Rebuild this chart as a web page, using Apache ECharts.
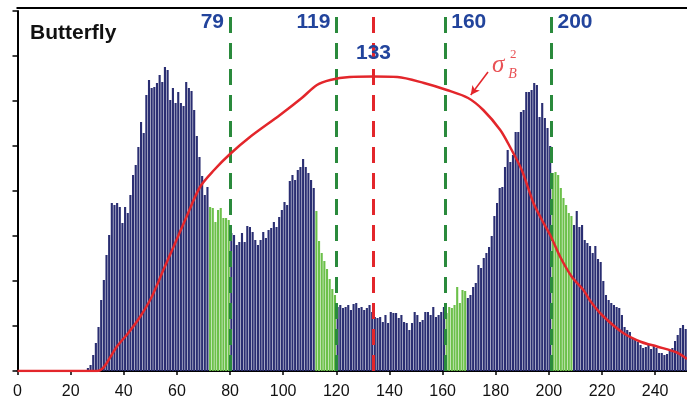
<!DOCTYPE html>
<html><head><meta charset="utf-8">
<script src="https://cdn.jsdelivr.net/npm/echarts@6/dist/echarts.min.js"></script>
<style>html,body{margin:0;padding:0;background:#fff}#c{width:687px;height:403px}</style>
</head><body><div id="c"></div>
<script>
// histogram counts for gray levels 0..251 (arbitrary units)
const counts = [
 0,0,0,0,0,0,0,0,0,0, 0,0,0,0,0,0,0,0,0,0, 0,0,0,0,0,1,3,6,16,28,
 44,71,91,116,136,168,166,168,164,148, 164,158,176,196,206,224,249,238,276,291,
 283,284,288,296,289,304,301,271,283,268, 279,268,265,289,283,280,261,235,214,195,
 176,184,164,163,149,161,163,153,153,151, 138,136,126,129,138,129,145,144,139,131,
 126,131,139,133,141,143,149,144,154,161, 169,166,190,196,191,201,204,212,204,198,
 191,183,160,130,118,110,102,92,82,76, 64,66,63,64,66,61,67,68,63,64,
 61,63,66,59,54,53,54,49,56,48, 59,58,58,53,56,49,48,41,48,59,
 56,49,51,59,59,56,64,54,56,59, 64,58,64,63,66,84,68,81,80,73,
 76,84,88,106,103,113,118,124,135,155, 168,183,184,204,221,209,216,239,239,259,
 261,279,279,281,288,286,254,268,253,243, 225,198,199,196,183,173,166,158,155,146,
 160,144,146,131,128,125,118,125,112,109, 90,76,71,68,66,64,63,56,44,41,
 39,33,31,29,26,23,24,26,22,25, 23,18,18,16,17,21,23,30,36,43,
 46,42
];
const greenRanges = [[72,79],[112,119],[161,168],[201,208]];
const thresholds = [79, 119, 133, 160, 200];
const optimalThreshold = 133;
// between-class variance curve sigma_B^2 (same visual scale)
const sigmaX = [0,30,31.8,33.6,37.3,41.7,46.1,50.5,54.9,58.7,63.1,68.7,74,80,87.5,98.8,107,112.7,117.7,125,134,143,153,161.6,169.6,175.3,181.7,185.4,189.8,194.2,197.4,200.5,204.3,208.7,213,215.6,220,228,234.8,240.7,248.2,252];
const sigmaY = [0,0,2,8,24,38,54,74,101,124,151,184,201,217,234,256,273,286,291,294,294.5,294,288,281,273,261,241,224,201,168,151,136,114,94,81,70,56,38,29,24.5,18.5,12];
const xTicks = {min: 0, max: 252, interval: 20};

const navy = '#2a2e72', green = '#6cc04a', dgreen = '#2a8a3c', red = '#e3262b', blue = '#22449c';
const isGreen = k => greenRanges.some(r => k >= r[0] && k <= r[1]);

const barData = counts.map((v, k) => [k, v]);
const sigmaData = sigmaX.map((x, i) => [x, sigmaY[i]]);

const thrLines = thresholds.map(t => {
  const isOpt = t === optimalThreshold;
  return [
    {coord: [t + 1, 0], symbol: 'none', lineStyle: {color: isOpt ? red : dgreen, width: 3, type: [16, 10]}},
    {coord: [t + 1, 356], symbol: 'none'}
  ];
});
const arrowLine = [
  {coord: [177.1, 299], symbol: 'none', lineStyle: {color: red, width: 1.5, type: 'solid'}},
  {coord: [170.6, 276], symbol: 'arrow', symbolSize: [7, 9]}
];

const thrLabelData = thresholds.map(t => {
  if (t === optimalThreshold) return {value: [t + 1, 318], label: {position: 'inside'}};
  const lower = t < optimalThreshold;
  return {value: [t + 1, 349], label: {position: lower ? 'left' : 'right', distance: 6}};
});

const chart = echarts.init(document.getElementById('c'), null, {renderer: 'canvas'});
chart.setOption({
  animation: false,
  grid: {left: 17.5, right: 0, top: 11, bottom: 32, containLabel: false},
  xAxis: {
    type: 'value', min: xTicks.min, max: xTicks.max, interval: xTicks.interval,
    axisLine: {show: true, onZero: false, lineStyle: {color: '#000', width: 2}},
    axisTick: {show: true, length: 4, lineStyle: {color: '#000', width: 1.5}},
    axisLabel: {show: true, margin: 13, color: '#111', fontSize: 16, fontFamily: 'Arial, Liberation Sans', showMaxLabel: false},
    splitLine: {show: false}
  },
  yAxis: {
    type: 'value', min: 0, max: 360, interval: 45,
    axisLine: {show: true, lineStyle: {color: '#000', width: 2}},
    axisTick: {show: true, length: 5, lineStyle: {color: '#000', width: 1.5}},
    axisLabel: {show: false}, splitLine: {show: false}
  },
  graphic: [{
    type: 'line', shape: {x1: 16.5, y1: 8, x2: 687, y2: 8},
    style: {stroke: '#000', lineWidth: 2}
  }, {
    type: 'text', left: 30, top: 23,
    style: {text: 'Butterfly', font: 'bold 21px Arial, "Liberation Sans"', fill: '#111'}
  }],
  series: [{
    type: 'custom', name: 'histogram', clip: true,
    data: barData,
    encode: {x: 0, y: 1},
    renderItem: (params, api) => {
      const k = api.value(0), v = api.value(1);
      if (!v) return null;
      const p0 = api.coord([k, 0]), p1 = api.coord([k + 1, v]);
      const w = p1[0] - p0[0];
      return {type: 'rect', shape: {x: p0[0] + w * 0.1, y: p1[1], width: w * 0.8, height: p0[1] - p1[1]},
        style: {fill: isGreen(k) ? green : navy}};
    }
  }, {
    type: 'line', name: 'sigma', data: sigmaData, smooth: 0.3, symbol: 'none',
    lineStyle: {color: red, width: 2.5}, z: 5,
    markLine: {silent: true, animation: false, label: {show: false}, data: thrLines.concat([arrowLine])}
  }, {
    type: 'scatter', name: 'thrLabels', symbolSize: 0, data: thrLabelData, z: 6,
    label: {show: true, formatter: p => String(p.value[0] - 1), color: blue, fontSize: 21, fontWeight: 'bold',
      fontFamily: '"Liberation Sans", Arial', textBorderWidth: 0, opacity: 1}
  }, {
    type: 'scatter', name: 'sigmaLabel', symbolSize: 0, z: 6,
    data: [
      {value: [180.9, 306], label: {formatter: 'σ', fontSize: 25}},
      {value: [186.3, 297], label: {formatter: 'B', fontSize: 14}},
      {value: [186.6, 316], label: {formatter: '2', fontSize: 13, fontStyle: 'normal'}}
    ],
    label: {show: true, position: 'inside', color: red, fontStyle: 'italic', textBorderWidth: 0,
      fontFamily: '"Liberation Serif", "DejaVu Serif", serif'}
  }]
});
</script></body></html>
